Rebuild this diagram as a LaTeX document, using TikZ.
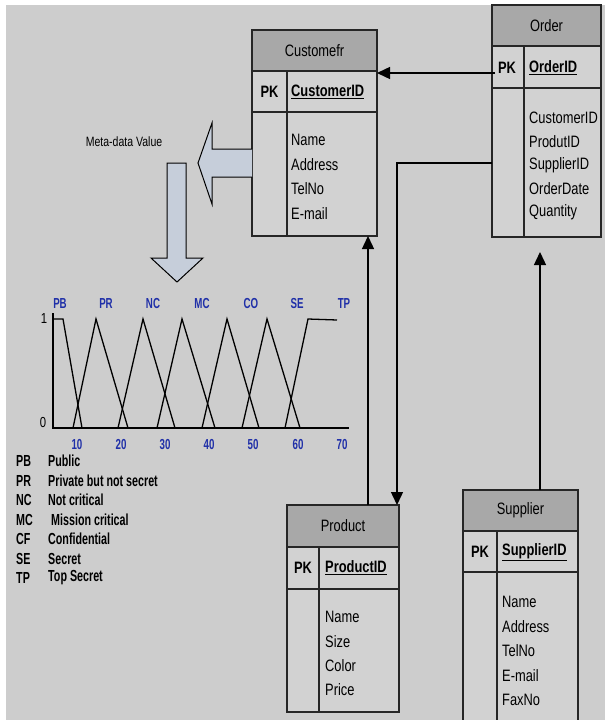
\documentclass[tikz,border=0pt]{standalone}
\usepackage{fontspec}
\setmainfont{Liberation Sans}
\newfontfamily\nar{Liberation Sans}[FakeStretch=0.78]
\newfontfamily\legf{Liberation Sans}[FakeStretch=0.67]
\usetikzlibrary{arrows.meta}
\definecolor{bg}{HTML}{CDCDCD}
\definecolor{hdr}{HTML}{A8A8A8}
\definecolor{bodyc}{HTML}{D2D2D2}
\definecolor{blk}{HTML}{C6CEDA}
\definecolor{lblue}{HTML}{1F2FA8}
\tikzset{
  cell/.style={draw=black!85, line width=1.1pt, anchor=north west, inner sep=0pt, outer sep=0pt},
  hcell/.style={cell, fill=hdr, font=\nar\fontsize{16.5}{18}\selectfont},
  bcell/.style={cell, fill=bodyc},
  divl/.style={draw=black!85, line width=1.1pt},
  pkl/.style={inner sep=0pt, font=\nar\bfseries\fontsize{16.5}{18}\selectfont},
  fld/.style={anchor=west, inner sep=0pt, font=\nar\fontsize{16.5}{18}\selectfont},
  conn/.style={line width=1.4pt, -{Triangle[length=13pt,width=12pt]}},
  blockarrow/.style={draw=black, line width=1pt, fill=blk},
  axisl/.style={line width=1.6pt},
  mf/.style={line width=1.3pt},
  tick/.style={inner sep=0pt, text=lblue, font=\legf\bfseries\fontsize{14.5}{16}\selectfont},
  axnum/.style={inner sep=0pt, font=\nar\fontsize{14.5}{16}\selectfont},
  legab/.style={anchor=west, inner sep=0pt, font=\legf\bfseries\fontsize{16}{18}\selectfont},
}
\begin{document}
\begin{tikzpicture}[x=1pt,y=-1pt]
\useasboundingbox (0,0) rectangle (605,720);
\clip (0,0) rectangle (605,720);
\fill[white] (0,0) rectangle (605,720);
\fill[bg] (6,5) rectangle (605,720);

% ---------- Customer ----------
\node[hcell, minimum width=125pt, minimum height=41pt] (custH) at (252,30) {Customefr};
\node[bcell, minimum width=125pt, minimum height=41pt] (custPK) at (252,71) {};
\node[bcell, minimum width=125pt, minimum height=124pt] (custB) at (252,112) {};
\draw[divl] (287,71) -- (287,236);
\node[pkl] (custPKl) at (269.5,92) {PK};
\node[pkl, anchor=west] (custID) at (291,92) {\underline{CustomerID}};
\foreach \t [count=\i] in {Name,Address,TelNo,E-mail}
  \node[fld] (custF\i) at (291,{140+24.4*(\i-1)}) {\t};

% ---------- Order ----------
\node[hcell, minimum width=109pt, minimum height=41pt] (ordH) at (492,5) {Order};
\node[bcell, minimum width=109pt, minimum height=42pt] (ordPK) at (492,46) {};
\node[bcell, minimum width=109pt, minimum height=149pt] (ordB) at (492,88) {};
\draw[divl] (524,46) -- (524,237);
\node[pkl] (ordPKl) at (507,68) {PK};
\node[pkl, anchor=west] (ordID) at (529,68) {\underline{OrderID}};
\foreach \t [count=\i] in {CustomerID,ProdutID,SupplierID,OrderDate,Quantity}
  \node[fld] (ordF\i) at (529,{118+23.5*(\i-1)}) {\t};

% ---------- Product ----------
\node[hcell, minimum width=112pt, minimum height=42pt] (prodH) at (287,505) {Product};
\node[bcell, minimum width=112pt, minimum height=42pt] (prodPK) at (287,547) {};
\node[bcell, minimum width=112pt, minimum height=123pt] (prodB) at (287,589) {};
\draw[divl] (319,547) -- (319,712);
\node[pkl] (prodPKl) at (303,568) {PK};
\node[pkl, anchor=west] (prodID) at (325,568) {\underline{ProductID}};
\foreach \t [count=\i] in {Name,Size,Color,Price}
  \node[fld] (prodF\i) at (325,{617+24.3*(\i-1)}) {\t};

% ---------- Supplier ----------
\node[hcell, minimum width=115pt, minimum height=41pt] (supH) at (463,490) {Supplier};
\node[bcell, minimum width=115pt, minimum height=41pt] (supPK) at (463,531) {};
\node[bcell, minimum width=115pt, minimum height=160pt] (supB) at (463,572) {};
\draw[divl] (497,531) -- (497,732);
\node[pkl] (supPKl) at (480,552) {PK};
\node[pkl, anchor=west] (supID) at (502,552) {\underline{SupplierID}};
\foreach \t [count=\i] in {Name,Address,TelNo,E-mail,FaxNo}
  \node[fld] (supF\i) at (502,{602+24.4*(\i-1)}) {\t};

% ---------- connectors ----------
\coordinate (oc) at (495,73);
\draw[conn] (oc) -- (oc -| custPK.east);
\coordinate (op) at (492,163);
\coordinate (opc) at (397,163);
\draw[conn] (op) -- (opc) -- (opc |- prodH.north);
\coordinate (pc) at (368,400);
\draw[conn] (pc |- prodH.north) -- (pc |- custB.south);
\coordinate (so) at (540,400);
\draw[conn, shorten >=15pt] (so |- supH.north) -- (so |- ordB.south);

% ---------- block arrows ----------
\draw[blockarrow] (252,149) -- (212,149) -- (212,123) -- (198,163) -- (212,204) -- (212,177) -- (252,177);
\draw[blockarrow] (167,163) -- (186,163) -- (186,258) -- (203,258) -- (177,282) -- (151,258) -- (167,258) -- cycle;
\node[inner sep=0pt, font=\nar\fontsize{13.5}{15}\selectfont] (meta) at (124,142) {Meta-data Value};

% ---------- fuzzy chart ----------
\draw[axisl] (53,313) -- (53,428) -- (349,428);
\node[axnum] (one) at (44,319) {1};
\node[axnum] (zero) at (43,423) {0};
\draw[mf] (53,319) -- (63,319) -- (82,428);
\draw[mf] (73,428) -- (96,319) -- (128,428);
\draw[mf] (118,428) -- (143,319) -- (175,428);
\draw[mf] (157,428) -- (182,319) -- (215,428);
\draw[mf] (202,428) -- (227,319) -- (259,428);
\draw[mf] (242,428) -- (267,319) -- (300,428);
\draw[mf] (285,428) -- (308,319) -- (337,320);
\foreach \t/\x [count=\i] in {PB/60,PR/106,NC/153,MC/202,CO/251,SE/297,TP/344}
  \node[tick] (lab\i) at (\x,304) {\t};
\foreach \t/\x [count=\i] in {10/77,20/121,30/165,40/209,50/253,60/298,70/342}
  \node[tick] (num\i) at (\x,445) {\t};

% ---------- legend ----------
\foreach \a/\d/\dx [count=\i] in {PB/Public/48,PR/Private but not secret/48,NC/Not critical/48,MC/Mission critical/51,CF/Confidential/48,SE/Secret/48,TP/Top Secret/48}{
  \node[legab] (legA\i) at (16,{461+19.5*(\i-1)}) {\a};
  \node[legab] (legD\i) at (\dx,{461+19.5*(\i-1)}) {\d};
}
\end{tikzpicture}
\end{document}
